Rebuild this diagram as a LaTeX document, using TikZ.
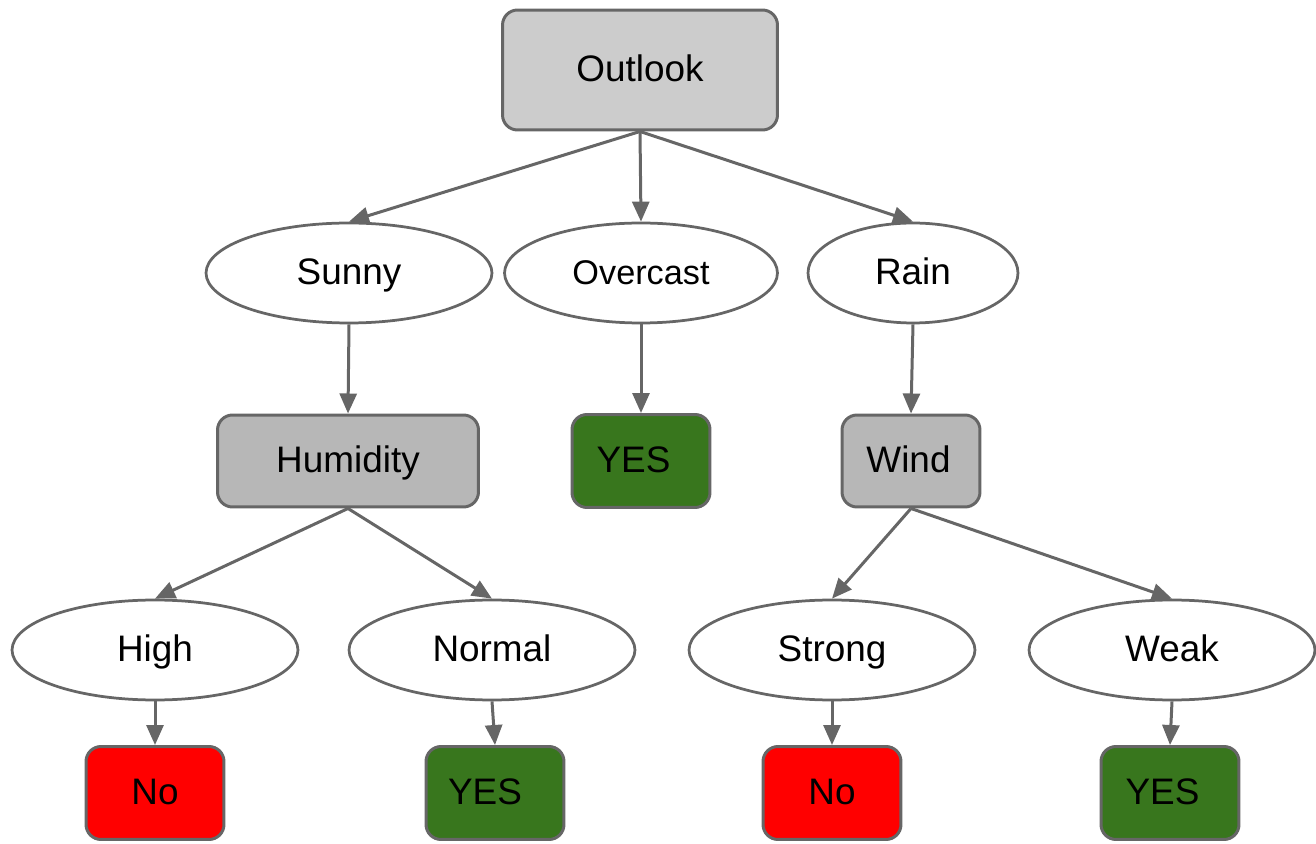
\documentclass[tikz,border=0pt]{standalone}
\usepackage{fontspec}
\setmainfont{Liberation Sans}
\usetikzlibrary{shapes.geometric,arrows.meta}

\definecolor{edgegray}{HTML}{666666}
\definecolor{rootgray}{HTML}{CCCCCC}
\definecolor{attrgray}{HTML}{B7B7B7}
\definecolor{yesgreen}{HTML}{38761D}
\definecolor{nored}{HTML}{FF0000}

\begin{document}
\begin{tikzpicture}[x=0.02cm,y=-0.02cm,
    every node/.style={font=\fontsize{21}{25}\selectfont,inner sep=0pt,
      text height=13pt,text depth=0pt},
    attr/.style={draw=edgegray,line width=0.06cm,rounded corners=0.3cm,
      minimum height=1.84cm},
    branch/.style={draw=edgegray,line width=0.055cm,ellipse,fill=white,
      minimum width=5.72cm,minimum height=2cm},
    leaf/.style={draw=edgegray,line width=0.06cm,rounded corners=0.3cm,
      minimum width=2.76cm,minimum height=1.86cm},
    edge/.style={draw=edgegray,line width=0.06cm,
      -{Triangle[length=0.4cm,width=0.34cm]}}]
  \useasboundingbox (0,0) rectangle (1316,844);

  % root
  \node[attr,fill=rootgray,minimum width=5.5cm,minimum height=2.4cm]
    (outlook) at (640,70) {Outlook};

  % first level
  \node[branch] (sunny) at (349,273) {Sunny};
  \node[branch,minimum width=5.46cm] (overcast) at (641,273)
    {\fontsize{19.5}{23}\selectfont Overcast};
  \node[branch,minimum width=4.2cm] (rain) at (913,273) {Rain};

  \node[attr,fill=attrgray,minimum width=5.22cm] (humidity) at (348,461) {Humidity};
  \node[leaf,fill=yesgreen] (yes1) at (641,461) {\hspace*{-0.3cm}YES};
  \node[attr,fill=attrgray,minimum width=2.76cm] (wind) at (911,461) {\hspace*{-0.1cm}Wind};

  % second level
  \node[branch] (high) at (155,650) {High};
  \node[branch] (normal) at (492,650) {Normal};
  \node[branch] (strong) at (832,650) {Strong};
  \node[branch] (weak) at (1172,650) {Weak};

  \node[leaf,fill=nored] (no1) at (155,793) {No};
  \node[leaf,fill=yesgreen] (yes2) at (495,793) {\hspace*{-0.4cm}YES};
  \node[leaf,fill=nored] (no2) at (832,793) {No};
  \node[leaf,fill=yesgreen] (yes3) at (1170,793) {\hspace*{-0.3cm}YES};

  % edges
  \draw[edge] (outlook.south) -- (sunny.north);
  \draw[edge] (outlook.south) -- (overcast.north);
  \draw[edge] (outlook.south) -- (rain.north);
  \draw[edge] (sunny.south) -- (humidity.north);
  \draw[edge] (overcast.south) -- (yes1.north);
  \draw[edge] (rain.south) -- (wind.north);
  \draw[edge] (humidity.south) -- (high.north);
  \draw[edge] (humidity.south) -- (normal.north);
  \draw[edge] (wind.south) -- (strong.north);
  \draw[edge] (wind.south) -- (weak.north);
  \draw[edge] (high.south) -- (no1.north);
  \draw[edge] (normal.south) -- (yes2.north);
  \draw[edge] (strong.south) -- (no2.north);
  \draw[edge] (weak.south) -- (yes3.north);
\end{tikzpicture}
\end{document}
